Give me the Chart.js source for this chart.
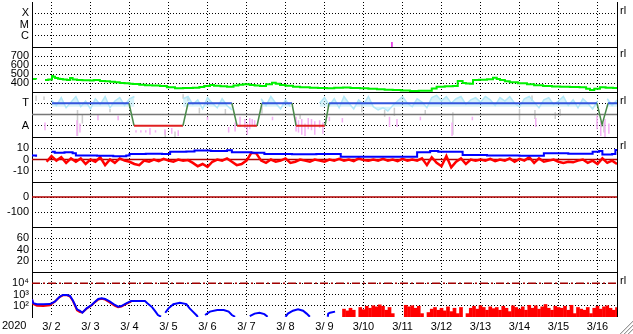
<!DOCTYPE html>
<html><head><meta charset="utf-8">
<script src="https://cdn.jsdelivr.net/npm/chart.js@4.4.1/dist/chart.umd.min.js"></script>
<style>html,body{margin:0;padding:0;background:#fff;}#c{display:block;}</style>
</head><body>
<canvas id="c" width="633" height="334"></canvas>
<script>
// ---------- axis / tick data ----------
const dayHours = [0,24,48,72,96,120,144,168,192,216,240,264,288,312,336];
const dayLabels = ['3/ 2','3/ 3','3/ 4','3/ 5','3/ 6','3/ 7','3/ 8','3/ 9','3/10','3/11','3/12','3/13','3/14','3/15','3/16'];
const yearLabel = '2020';
const p1Ticks = [3,2,1], p1Labels = ['X','M','C'];
const p2Ticks = [700,600,500,400];
const p3Ticks = [2,0], p3Labels = ['T','A'];
const p4Ticks = [10,0,-10];
const p5Ticks = [0,-100];
const p6Ticks = [60,40,20];
const p7Ticks = [10000,1000,100], p7Labels = ['10\u2074','10\u00b3','10\u00b2'];
const rightTag = 'rl';

// ---------- series data (hours from 3/2 00:00) ----------
const markH = [221.5], markV = [0.45];

const greenH = [0.6,2.5,3,8,10,12.3,13,14.2,16,17.2,19,21.5,23.4,25,27.7,31,35.7,38,41.8,45,48,51,54,57,60,62,66,69.5,74,78.8,83,88,93,99,103,106,109.5,112,116,120,124,127,130,134,137,140.3,144,147.7,150,152.6,156,160.6,165,171,176,181.5,186,191.4,196,201.8,207,212.3,217,222,227,232.6,238,243,246,249,254,259,262,265,267,269.5,271.4,275,280,283.7,286,288,291,294,299,304.6,309,314.5,320,325,331,337,341,343.4,346,349.5,353,357.5,360];
const greenV = [444,440,null,433,440,478,470,455,448,444,438,433,455,440,433,430,428,433,422,420,415,408,400,396,392,389,380,375,372,367,352,341,344,347,355,368,378,370,364,359,372,380,385,378,372,367,385,404,392,378,370,359,352,347,344,341,346,350,344,341,335,330,326,322,317,310,313,315,340,359,364,367,422,400,395,393,433,435,441,459,445,433,420,407,396,385,375,367,362,359,355,352,335,322,335,352,348,344,344];

const stepH = [12.3,59.7,62.8,92.9,96,123,126.2,138.5,141.5,160,162.5,180.3,182.8,347.7,350.8,354.5,360];
const stepV = [2,2,0,0,2,2,0,0,2,2,0,0,2,2,0.1,2,2];
const midH = [0,360], midV = [1,1];

const hours3 = [0,3,6,9,12,15,18,21,24,27,30,33,36,39,42,45,48,51,54,57,60,63,66,69,72,75,78,81,84,87,90,93,96,99,102,105,108,111,114,117,120,123,126,129,132,135,138,141,144,147,150,153,156,159,162,165,168,171,174,177,180,183,186,189,192,195,198,201,204,207,210,213,216,219,222,225,228,231,234,237,240,243,246,249,252,255,258,261,264,267,270,273,276,279,282,285,288,291,294,297,300,303,306,309,312,315,318,321,324,327,330,333,336,339,342,345,348,351,354,357,360];
const cyanV = [null,null,2.5,null,
 2.3,1.8,2.5,1.6,2.1,2.6,1.7,2.2,1.5,2.4,1.9,2.6,1.6,2.2,2.5,1.8,2.4,
 2.6,
 null,null,null,null,null,null,null,null,null,
 2.4,
 2.6,1.9,2.3,1.5,2.5,2.0,1.6,2.4,1.8,1.4,
 null,null,null,null,null,
 2.4,1.8,2.6,2.0,1.5,2.3,1.7,
 null,null,null,null,null,
 2.0,2.5,
 1.8,2.4,1.6,2.6,2.0,1.5,2.3,1.9,2.6,1.7,
 1.4,1.6,1.3,1.8,2.2,2.6,2.0,1.7,2.4,2.1,
 1.6,2.5,2.7,2.2,2.6,2.0,2.4,2.6,1.9,2.3,
 2.5,2.1,2.6,2.3,1.8,2.5,2.2,2.6,2.0,1.7,
 2.4,2.6,2.1,1.6,2.3,2.5,1.9,2.2,2.6,1.8,
 2.3,1.6,2.4,2.0,1.5,2.2,
 null,
 2.4,1.8,2.3];
const red4V = [0.5,null,null,-2,
 3,-1,2,-3,1,
 -2,1,-4,0,-2,2,-5,0,-3,1,-1,-2,
 -4,-5,
 -1,-2,0,-1.5,0.5,-1,-2,0,-1,-0.5,
 -3,-6,-4,-6.5,-2,0,-1,1,
 -2,-5,-4,-1,
 6,5.5,
 -1,-3,0,-2,-1,1,-3,-2,0,-1,-2,0,-1,-2,0,
 -1,0.5,-1,0,-1.5,1,-0.5,-1,0,-1,0.5,-1,0,-1.5,0.5,-1,0,-1,1,
 -5,2,-3,-6,3,-7,-2,1,-4,0,-1,
 0,-1,0.5,-1.5,0,-1,1,-2,0.5,-1,2,-3,1,-2,-1,0,-2,
 -3,-2,-2.5,-1,
 0,-3,-1,-4,1,-3,-1,-4];

const pinkH = [8,27.7,29.5,40.6,53,64,67,70,72.6,76,81.8,86,90,108,121,125,128,131,132.5,134,135.5,137,148,162.5,164,166,168,170,172,174,177,179,183,191,220,224.6,239,258.5,271,310,347.7,350,352.6,355];
const pinkTop = [0.3,0.5,0.2,1.0,0.9,-0.4,-0.4,-0.4,-0.2,-0.4,-0.3,-0.2,-0.4,0.8,-0.1,0.3,0.8,0.6,0.2,0.7,0.6,0.5,0.8,0.8,0.5,0.6,0.2,0.7,0.6,0.4,0.5,0.3,0.8,0.7,0.8,0.6,0.8,0.3,0.8,0.7,0.9,0.4,0.6,0.2];
const pinkBot = [-0.4,-0.9,-0.6,0.5,0.5,-0.6,-0.6,-0.6,-0.8,-0.6,-0.8,-0.7,-0.9,0.5,-0.6,-0.5,-0.1,-0.2,-0.8,-0.3,0,-0.1,0.5,-0.5,-0.6,-0.8,-0.9,-0.3,-0.4,-0.8,-0.2,-0.7,0.4,0.3,-0.1,-0.1,0.5,-0.9,0.5,-0.1,-0.3,-0.9,-1.0,-0.7];

const grayH = [2.5,7.4,28,31,48,82,88,93,96,103,119,141.5,165,203,217,223,242,259,300,307.7,309.5,322,325,352];
const grayTop = [2.7,2.6,1.4,1.0,1.5,-0.4,-0.5,2.8,2.6,1.6,1.5,1.8,1.0,1.9,1.4,1.6,1.4,1.2,1.5,2.7,1.4,1.2,1.5,0.3];
const grayBot = [2.2,2.3,-0.9,0.2,1.2,-1.0,-1.0,2.4,2.2,1.1,1.0,1.1,0.6,1.2,0.8,0.9,1.0,-0.8,0.5,2.2,0.6,0.6,0.9,-0.6];

const blue4H = [0,2.5,3,12,14,20,25,27,40,50,58,60,70,80,85,95,100,110,120,123,135,143,160,175,185,190,210,225,237,245,250,265,280,300,315,330,345,349,351,357,359,360];
const blue4V = [3.5,2.5,null,7,6,6.5,5.5,3.5,3.3,3.0,3.5,5,5.2,4.8,7,7.2,8,7.6,8.2,6.4,6.0,4.8,4.6,5,4.8,2.4,2.5,2.4,6.4,7.6,7,3.9,3.5,3.3,5.5,5.2,7,7.5,4.5,5,8.5,8.5];
const zeroH = [0,360], zeroV = [0,0];

const refH = [0,360], refV = [10000,10000];
const blue7H = [0,0.8,3,7,11,14,17,19,21.5,23.4,25,26.5,27.7,29.5,31,33.6,36.7,38.8,40.8,42.9,45,48,51,53,55,58,61,64.5,69.5,71,74,76,77.5,79.4,80,82,84,87,91,95,97,99,101.5,102,103,106.5,109.5,114,118,121,123,125,126,134,137,140,143,145,146,156,157.5,160.6,163.7,166.8,169,171,172,182,182.3,183.4,186.5];
const blue7V = [370,166,135,135,140,230,630,910,900,740,330,117,48,36,24,59,117,230,400,460,400,230,117,83,95,166,260,260,260,166,72,30,15,10.7,null,24,59,135,185,140,59,30,13,10,null,15,30,42,42,30,15,10.5,null,12,20,24,18,10.5,null,10.5,20,36,48,36,20,10.5,null,10.5,20,24,30];
const red7H = [0,0.8,3,7,11,14,17,19,21.5,23.4,25,26.5,27.7,29.5,31,33.6,36.7,38.8,40.8,42.9,45,48,51,53,55,58,61];
const red7V = [370,140,100,95,110,230,600,850,880,640,300,100,40,28,25,55,110,210,360,420,350,190,100,75,85,150,240];
const barH = [192,194,196,198,200,202,204,206,208,210,212,214,216,218,220,222,224,226,228,230,232,234,236,238,240,242,244,246,248,250,252,254,256,258,260,262,264,266,268,270,272,274,276,278,280,282,284,286,288,290,292,294,296,298,300,302,304,306,308,310,312,314,316,318,320,322,324,326,328,330,332,334,336,338,340,342,344,346,348,350,352,354,356,358,360];
const barV = [50,35,60,40,null,70,45,90,60,100,80,120,90,40,70,20,null,null,null,110,80,100,60,90,20,null,25,50,70,40,60,35,80,30,60,20,70,null,20,60,90,50,100,70,40,80,55,70,40,90,60,30,100,70,50,80,40,110,60,100,50,80,130,60,40,90,70,60,90,40,110,20,70,50,40,70,20,60,90,50,80,100,60,40,70];

// ---------- helpers ----------
const pts = (H, V) => H.map((h, i) => ({x: h, y: V[i]}));
function streaks(H, T, B) {
  const out = [];
  H.forEach((h, i) => { out.push({x: h, y: T[i]}, {x: h, y: B[i]}, {x: h, y: null}); });
  return out;
}
const FONT = {family: "'Liberation Sans', 'DejaVu Sans', sans-serif", size: 11};
function noPad(s) { s.paddingTop = 0; s.paddingBottom = 0; s.paddingLeft = 0; s.paddingRight = 0; }
function panel(weight, min, max, ticks, labels, type) {
  return {
    type: type || 'linear', position: 'left', stack: 'panels', stackWeight: 1, weight: weight,
    min: min, max: max,
    afterFit(s) { s.width = 32; noPad(s); },
    afterBuildTicks(s) { s.ticks = ticks.map(v => ({value: v})); },
    grid: {color: '#000', lineWidth: 1, drawTicks: false, tickLength: 0},
    border: {display: true, color: '#000', width: 1, dash: [1, 2]},
    ticks: {color: '#000', font: FONT, padding: 3, autoSkip: false,
      callback: (v, i) => labels ? labels[i] : String(v)}
  };
}
const L = (o) => Object.assign({type: 'line', pointRadius: 0, borderWidth: 2, fill: false, tension: 0, spanGaps: false, xAxisID: 'x'}, o);

const decor = {
  id: 'decor',
  afterDraw(chart) {
    const {ctx, chartArea: a, scales} = chart;
    ctx.save();
    ctx.strokeStyle = '#000'; ctx.lineWidth = 1;
    ['p1','p2','p3','p4','p5','p6'].forEach(id => {
      const y = Math.round(scales[id].bottom) + 0.5;
      ctx.beginPath(); ctx.moveTo(a.left, y); ctx.lineTo(a.right, y); ctx.stroke();
    });
    const rx = Math.round(a.right) + 0.5;
    ctx.beginPath(); ctx.moveTo(rx, a.top); ctx.lineTo(rx, a.bottom); ctx.stroke();
    ctx.fillStyle = '#000';
    ctx.font = "11px 'Liberation Sans', 'DejaVu Sans', sans-serif";
    ctx.textAlign = 'left'; ctx.textBaseline = 'middle';
    [['p1',3],['p2',700],['p3',2],['p4',10],['p7',10000]].forEach(([id, v]) => {
      ctx.fillText(rightTag, a.right + 3, scales[id].getPixelForValue(v) - 2);
    });
    ctx.textBaseline = 'top';
    ctx.fillText(yearLabel, 2, scales.x.top + 3);
    const W = chart.width, H = chart.height;
    [4, 8, 12].forEach(k => {
      ctx.strokeStyle = '#999';
      ctx.beginPath(); ctx.moveTo(W - k - 1, H); ctx.lineTo(W, H - k - 1); ctx.stroke();
      ctx.strokeStyle = '#ddd';
      ctx.beginPath(); ctx.moveTo(W - k, H); ctx.lineTo(W, H - k); ctx.stroke();
    });
    ctx.restore();
  }
};

new Chart(document.getElementById('c'), {
  type: 'line',
  data: {datasets: [
    L({yAxisID: 'p1', data: pts([markH[0], markH[0]], [0, markV[0]]), borderColor: '#e020e0', borderWidth: 1.5}),
    L({yAxisID: 'p2', data: pts(greenH, greenV), borderColor: '#00f000', stepped: true}),
    L({yAxisID: 'p3', data: pts(stepH, stepV), order: -1, borderColor: '#3355dd',
       segment: {borderColor: c => (c.p0.parsed.y === 2 && c.p1.parsed.y === 2) ? '#3355dd' : (c.p0.parsed.y === 0 && c.p1.parsed.y === 0) ? '#e02020' : '#4a8a4a',
                 borderWidth: c => (c.p0.parsed.y === c.p1.parsed.y) ? 2 : 1.5}}),
    L({yAxisID: 'p3', data: pts(midH, midV), order: 1, borderColor: '#777', borderWidth: 1.5}),
    L({yAxisID: 'p3', data: streaks(pinkH, pinkTop, pinkBot), order: 2, borderColor: '#f4aef4', borderWidth: 1.5}),
    L({yAxisID: 'p3', data: pts(hours3, cyanV), order: 3, borderColor: '#b2e8f8', borderWidth: 1.5,
       fill: {value: 1.7}, backgroundColor: 'rgba(178,232,248,0.5)'}),
    L({yAxisID: 'p3', data: streaks(grayH, grayTop, grayBot), order: 4, borderColor: '#cccccc', borderWidth: 1.5}),
    L({yAxisID: 'p4', data: pts(blue4H, blue4V), order: 1, borderColor: '#0000ff', stepped: true}),
    L({yAxisID: 'p4', data: pts(hours3, red4V), order: 2, borderColor: '#ff0000', borderWidth: 2.5}),
    L({yAxisID: 'p4', data: pts(zeroH, zeroV), order: 3, borderColor: '#b00000', borderWidth: 1.5}),
    L({yAxisID: 'p5', data: pts(zeroH, zeroV), borderColor: '#b00000', borderWidth: 1.5}),
    L({yAxisID: 'p7', data: pts(refH, refV), borderColor: '#a00000', borderWidth: 1.5, borderDash: [8, 3, 2, 3]}),
    L({yAxisID: 'p7', data: pts(blue7H, blue7V), order: 1, borderColor: '#0000ff'}),
    L({yAxisID: 'p7', data: pts(red7H, red7V), order: 2, borderColor: '#ff0000'}),
    {type: 'bar', xAxisID: 'x', yAxisID: 'p7', data: pts(barH, barV), backgroundColor: '#ff0000', barThickness: 3, borderWidth: 0, order: 3}
  ]},
  options: {
    responsive: false, animation: false, events: [],
    layout: {padding: {top: 2, right: 16, bottom: 0, left: 0}},
    plugins: {legend: {display: false}, tooltip: {enabled: false}, filler: {propagate: false}},
    scales: {
      x: {type: 'linear', min: 0, max: 360, offset: false, position: 'bottom',
        afterFit(s) { s.height = 17; noPad(s); },
        afterBuildTicks(s) { s.ticks = dayHours.map(v => ({value: v})); },
        grid: {color: '#000', lineWidth: 1, drawTicks: false, tickLength: 0},
        border: {display: false, dash: [1, 2]},
        ticks: {color: '#000', font: FONT, padding: 3, autoSkip: false, maxRotation: 0, labelOffset: 19.5,
          callback: (v, i) => dayLabels[i]}},
      p1: panel(7, 0, 4, p1Ticks, p1Labels),
      p2: panel(6, 300, 800, p2Ticks, null),
      p3: panel(5, -1, 3, p3Ticks, p3Labels),
      p4: panel(4, -20, 20, p4Ticks, null),
      p5: panel(3, -200, 100, p5Ticks, null),
      p6: panel(2, 0, 80, p6Ticks, null),
      p7: panel(1, 10, 100000, p7Ticks, p7Labels, 'logarithmic')
    }
  },
  plugins: [decor]
});
</script></body></html>
